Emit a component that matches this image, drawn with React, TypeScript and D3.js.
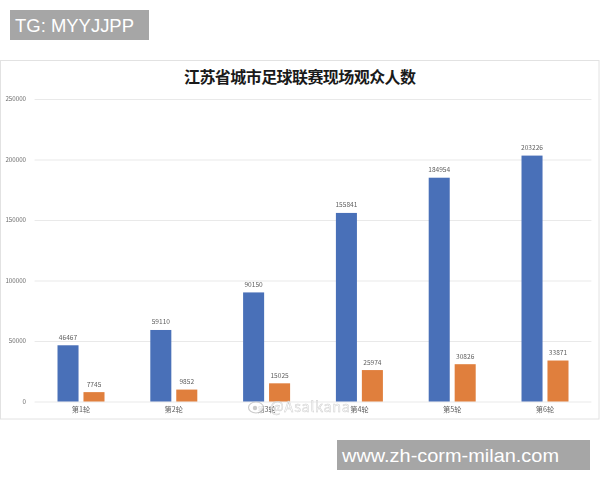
import { useRef, useEffect } from 'react';
import * as d3 from 'd3';

const rounds = ['第1轮', '第2轮', '第3轮', '第4轮', '第5轮', '第6轮'];
const seriesKeys = ['a', 'b'];
const seriesA = [46467, 59110, 90150, 155841, 184954, 203226];
const seriesB = [7745, 9852, 15025, 25974, 30826, 33871];
const yTicks = [0, 50000, 100000, 150000, 200000, 250000];
const colors = ['#4a70b8', '#e07f3c'];
const title = '江苏省城市足球联赛现场观众人数';
const sans = '"Noto Sans CJK SC", "Liberation Sans", sans-serif';

export default function App() {
    const svgRef = useRef<SVGSVGElement>(null);

    useEffect(() => {
        if (!svgRef.current) return;

        const svg = d3.select(svgRef.current);
        svg.selectAll('*').remove();

        const defs = svg.append('defs');
        defs.append('filter')
            .attr('id', 'soft')
            .append('feGaussianBlur')
            .attr('stdDeviation', 0.25);

        // Photo frame
        svg.append('rect')
            .attr('x', 0.5)
            .attr('y', 60.5)
            .attr('width', 598.5)
            .attr('height', 358.5)
            .attr('fill', '#fff')
            .attr('stroke', '#e2e2e2');

        const x = d3.scaleBand<string>().domain(rounds).range([34.6, 591.4]);
        const inner = d3.scaleBand<string>()
            .domain(seriesKeys)
            .range([x.bandwidth() / 2 - 23.5, x.bandwidth() / 2 + 23.5])
            .paddingInner(0.19)
            .paddingOuter(0);
        const y = d3.scaleLinear().domain([0, 250000]).range([401.5, 99]);

        const chart = svg.append('g').attr('filter', 'url(#soft)');

        // Grid lines
        const grid = chart.append('g')
            .attr('transform', 'translate(34.6,0)')
            .call(
                d3.axisLeft(y)
                    .tickValues(yTicks)
                    .tickSize(-556.8)
                    .tickFormat(() => '')
            );
        grid.select('.domain').remove();
        grid.selectAll('line').attr('stroke', '#e6e6e6').attr('stroke-width', 0.9);

        // Y axis labels
        const yAxis = chart.append('g')
            .attr('transform', 'translate(29,0)')
            .call(
                d3.axisLeft(y)
                    .tickValues(yTicks)
                    .tickSize(0)
                    .tickPadding(3)
                    .tickFormat(d => String(d))
            );
        yAxis.select('.domain').remove();
        yAxis.selectAll('text')
            .attr('fill', '#6e6e6e')
            .attr('font-family', sans)
            .attr('font-size', '6.2px');

        // X axis labels
        const xAxis = chart.append('g')
            .attr('transform', 'translate(0,401.5)')
            .call(d3.axisBottom(x).tickSize(0).tickPadding(5));
        xAxis.select('.domain').remove();
        xAxis.selectAll('text')
            .attr('fill', '#5e5e5e')
            .attr('font-family', sans)
            .attr('font-size', '7.2px');

        // Bars and their value labels
        [seriesA, seriesB].forEach((values, i) => {
            const key = seriesKeys[i];
            const group = chart.append('g');
            group.selectAll('rect')
                .data(values)
                .enter()
                .append('rect')
                .attr('x', (_, j) => (x(rounds[j]) as number) + (inner(key) as number))
                .attr('y', d => y(d))
                .attr('width', inner.bandwidth())
                .attr('height', d => y(0) - y(d))
                .attr('fill', colors[i]);
            group.selectAll('text')
                .data(values)
                .enter()
                .append('text')
                .attr('x', (_, j) => (x(rounds[j]) as number) + (inner(key) as number) + inner.bandwidth() / 2)
                .attr('y', d => y(d) - 5.5)
                .attr('text-anchor', 'middle')
                .attr('fill', '#5e5e5e')
                .attr('font-family', sans)
                .attr('font-size', '6.6px')
                .text(d => String(d));
        });

        // Title
        svg.append('text')
            .attr('x', 300)
            .attr('y', 83)
            .attr('text-anchor', 'middle')
            .attr('fill', '#1a1a1a')
            .attr('font-family', sans)
            .attr('font-weight', 700)
            .attr('font-size', '16px')
            .attr('textLength', 232)
            .text(title);

        // Weibo watermark
        const mark = svg.append('g').attr('opacity', 0.8);
        mark.append('ellipse')
            .attr('cx', 256)
            .attr('cy', 407.5)
            .attr('rx', 7.5)
            .attr('ry', 5.5)
            .attr('fill', '#fff')
            .attr('stroke', '#bdbdbd')
            .attr('stroke-width', 1.2);
        mark.append('circle')
            .attr('cx', 255)
            .attr('cy', 408)
            .attr('r', 2.2)
            .attr('fill', '#bdbdbd');
        mark.append('text')
            .attr('x', 270)
            .attr('y', 412)
            .attr('fill', '#fff')
            .attr('stroke', '#c4c4c4')
            .attr('stroke-width', 0.5)
            .attr('font-family', sans)
            .attr('font-size', '14.5px')
            .attr('textLength', 80)
            .text('@Asalkana');

        // Grey banners
        const banners = [
            { x: 10, y: 10, w: 139, h: 30, label: 'TG: MYYJJPP', len: 119 },
            { x: 337, y: 440, w: 253, h: 30, label: 'www.zh-corm-milan.com', len: 217 },
        ];
        banners.forEach(b => {
            svg.append('rect')
                .attr('x', b.x)
                .attr('y', b.y)
                .attr('width', b.w)
                .attr('height', b.h)
                .attr('fill', '#a6a6a6');
            svg.append('text')
                .attr('x', b.x + 5)
                .attr('y', b.y + 21.5)
                .attr('fill', '#fff')
                .attr('font-family', '"Liberation Sans", sans-serif')
                .attr('font-size', '18.5px')
                .attr('textLength', b.len)
                .attr('lengthAdjust', 'spacingAndGlyphs')
                .text(b.label);
        });
    }, []);

    return (
        <svg
            ref={svgRef}
            width={600}
            height={480}
            style={{ position: 'absolute', top: 0, left: 0, background: '#fff' }}
        />
    );
}
